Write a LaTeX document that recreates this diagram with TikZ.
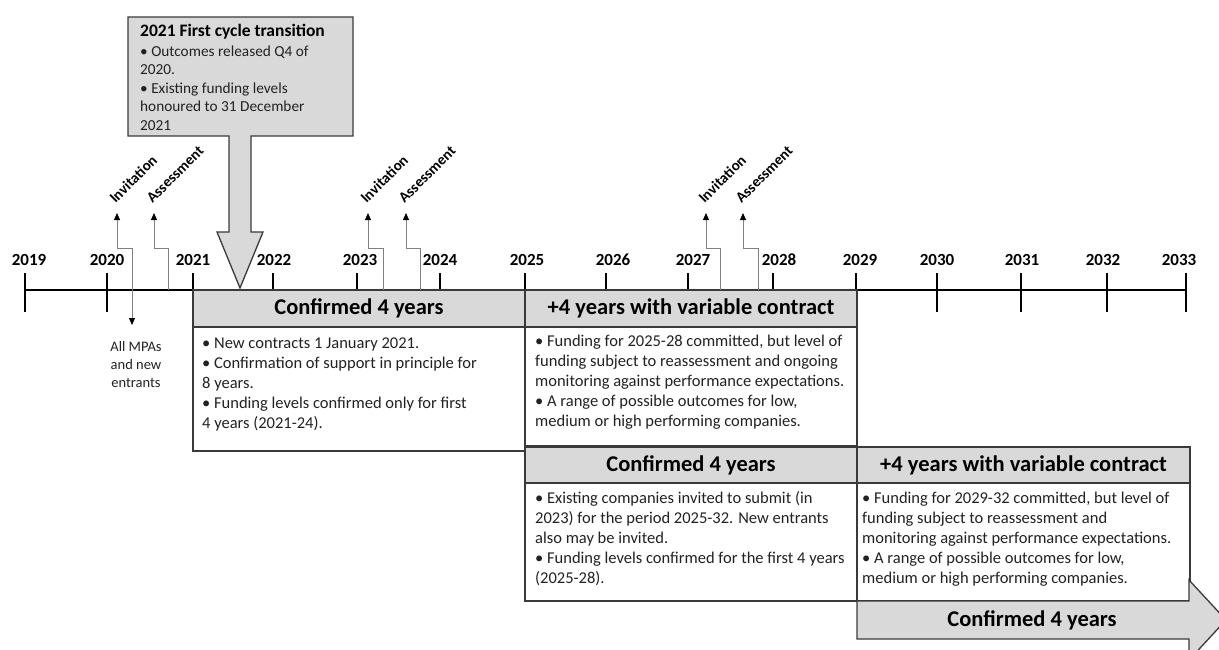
\documentclass[tikz,border=0pt]{standalone}
\usepackage{fontspec}
\setmainfont{Carlito}
\usetikzlibrary{arrows.meta}
\definecolor{boxgray}{HTML}{D9D9D9}
\definecolor{linec}{HTML}{3A3A3A}
\definecolor{txtc}{HTML}{222222}
\tikzset{
  hdr/.style={draw=linec,fill=boxgray,line width=1.3pt,inner sep=0pt,
    font=\fontsize{22.5}{27}\selectfont\bfseries,text=black},
  bodybox/.style={draw=linec,fill=white,line width=1.3pt},
  bodytext/.style={anchor=north west,inner sep=0pt,align=left,text=txtc,
    font=\fontsize{16.5}{20}\selectfont},
  yeartext/.style={anchor=base,inner sep=0pt,font=\fontsize{17}{20}\selectfont\bfseries},
  tag/.style={rotate=45,anchor=base west,inner sep=0pt,font=\fontsize{15}{18}\selectfont\bfseries},
  elbow/.style={draw=gray,line width=0.9pt,-{Triangle[length=7pt,width=6pt,color=black]}},
  tick/.style={black,line width=2pt}
}
\begin{document}
\begin{tikzpicture}[x=1pt,y=-1pt]
\useasboundingbox (0,0) rectangle (1219,650);
% timeline
\draw[tick] (25,290) -- (1186,290);
\foreach \yr/\tx/\lx in {2019/25/29,2020/107/107,2021/193/193,2022/273/274,2023/357/360,
    2024/440/440,2025/525/527,2026/606/613,2027/688/693,2028/773/779,2029/856/860,
    2030/937/937,2031/1021/1022,2032/1107/1103,2033/1186/1179} {
  \draw[tick] (\tx,273) -- (\tx,312);
  \node[yeartext] (y\yr) at (\lx,265) {\yr};
}
% boxes
\draw[bodybox] (193,327) rectangle (525,451);
\draw[bodybox] (525,327) rectangle (857,446);
\draw[bodybox] (525,483) rectangle (857,601);
\draw[bodybox] (857,483) rectangle (1190,601);
\node[hdr,minimum width=332,minimum height=37] (conf1) at (359,308.5) {Confirmed 4 years};
\node[hdr,minimum width=332,minimum height=37] (var1) at (691,308.5) {+4 years with variable contract};
\node[hdr,minimum width=332,minimum height=36] (conf2) at (691,465) {Confirmed 4 years};
\node[hdr,minimum width=333,minimum height=36] (var2) at (1023.5,465) {+4 years with variable contract};
\draw[draw=linec,fill=boxgray,line width=1.3pt] (857,601) -- (1189,601) -- (1189,580) -- (1226,620)
  -- (1189,660) -- (1189,639) -- (857,639) -- cycle;
\node[font=\fontsize{22.5}{27}\selectfont\bfseries] (conf3) at (1032,620) {Confirmed 4 years};

\node[bodytext] (conf1t) at (202,334) {\strut• New contracts 1 January 2021.\\
  • Confirmation of support in principle for\\ 8 years.\\
  • Funding levels confirmed only for first\\ 4 years (2021-24).};
\node[bodytext] (var1t) at (535,332) {\strut• Funding for 2025-28 committed, but level of\\
  funding subject to reassessment and ongoing\\
  monitoring against performance expectations.\\
  • A range of possible outcomes for low,\\ medium or high performing companies.};
\node[bodytext] (conf2t) at (535,489) {\strut• Existing companies invited to submit (in\\
  2023) for the period 2025-32. New entrants\\ also may be invited.\\
  • Funding levels confirmed for the first 4 years\\ (2025-28).};
\node[bodytext] (var2t) at (862,489) {\strut• Funding for 2029-32 committed, but level of\\
  funding subject to reassessment and\\
  monitoring against performance expectations.\\
  • A range of possible outcomes for low,\\ medium or high performing companies.};

% first cycle callout
\draw[draw=linec,fill=boxgray,line width=1.3pt] (128,17) -- (353,17) -- (353,136) -- (251,136)
  -- (251,232) -- (263,232) -- (240,288) -- (217,232) -- (229,232) -- (229,136) -- (128,136) -- cycle;
\node[anchor=base west,inner sep=0pt,font=\fontsize{17.5}{20}\selectfont\bfseries] (trans) at (140,37)
  {2021 First cycle transition};
\node[bodytext,font=\fontsize{15.3}{18.5}\selectfont] (transt) at (140,43) {\strut• Outcomes released Q4 of\\
  2020.\\ • Existing funding levels\\ honoured to 31 December\\ 2021};

% invitation / assessment
\foreach \n/\tx/\fx/\lab in {inv1/117/132/Invitation,ass1/154/168/Assessment,
    inv2/368/383/Invitation,ass2/406/420/Assessment,
    inv3/706/720/Invitation,ass3/743/758/Assessment} {
  \coordinate (tip\n) at (\tx,213);
  \coordinate (foot\n) at (\fx,290);
  \node[tag] (\n) at (\tx-1.5,204) {\lab};
  \draw[elbow] (foot\n) -- ++(0,-42) -| (tip\n);
}
\coordinate (mpatip) at (132,325);
\draw[elbow] (footinv1) -- (mpatip);
\node[anchor=north,inner sep=0pt,align=center,text=txtc,font=\fontsize{14.5}{18}\selectfont]
  (mpas) at (136,338.4) {\strut All MPAs\\ and new\\ entrants};
\end{tikzpicture}
\end{document}
